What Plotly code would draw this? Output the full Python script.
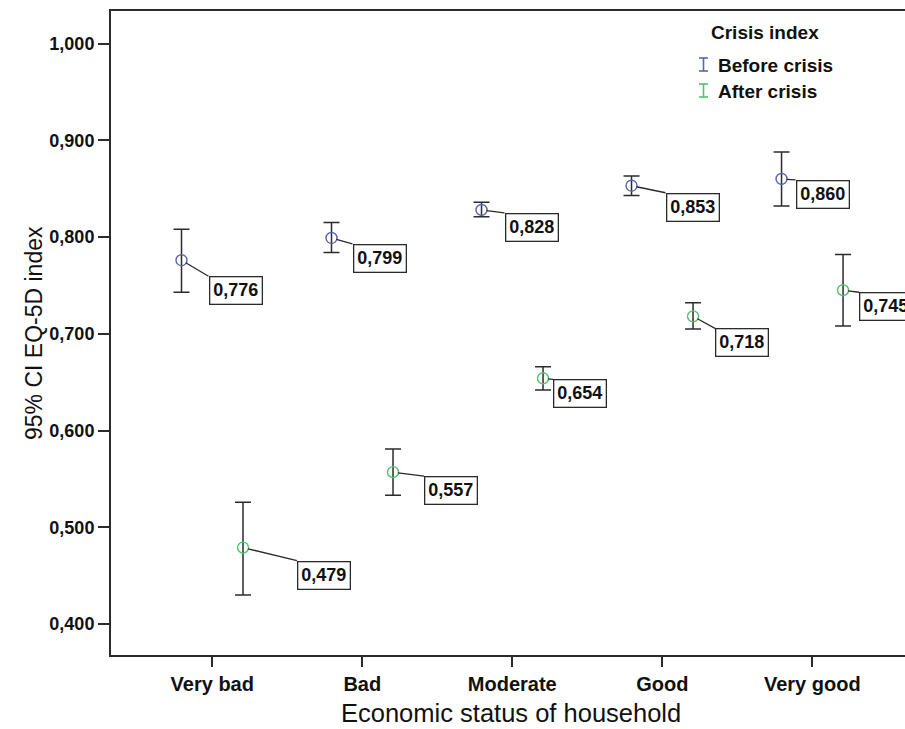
import plotly.graph_objects as go

# ---------------- data ----------------
categories = ["Very bad", "Bad", "Moderate", "Good", "Very good"]
series_names = ["Before crisis", "After crisis"]
legend_title = "Crisis index"

before_mean = [0.776, 0.799, 0.828, 0.853, 0.860]
before_low = [0.743, 0.784, 0.821, 0.843, 0.832]
before_high = [0.808, 0.815, 0.836, 0.863, 0.888]

after_mean = [0.479, 0.557, 0.654, 0.718, 0.745]
after_low = [0.430, 0.533, 0.642, 0.705, 0.708]
after_high = [0.526, 0.581, 0.666, 0.732, 0.782]

y_ticks = [0.4, 0.5, 0.6, 0.7, 0.8, 0.9, 1.0]

x_title = "Economic status of household"
y_title = "95% CI EQ-5D index"

# ---------------- style ----------------
W, H = 905, 729
ML, MR, MT, MB = 111, 0, 11, 729 - 655
FONT = "Liberation Sans, Arial, sans-serif"
DARK = "#2b2b2b"
BLUE = "#5a64b0"
GREEN = "#4fc46a"
group_shift = 0.205
before_label_offsets = [(27, 16), (21, 6), (23, 3), (34, 7), (14, 1)]
after_label_offsets = [(54, 13), (31, 4), (10, 1), (22, 12), (16, 2)]

pw = W - ML - MR
ph = H - MT - MB


def px_to_paper(x, y):
    """figure pixel position -> paper coordinates"""
    return (x - ML) / pw, (H - MB - y) / ph


fig = go.Figure()

series = [
    (series_names[0], before_mean, before_low, before_high, BLUE, -group_shift, before_label_offsets),
    (series_names[1], after_mean, after_low, after_high, GREEN, group_shift, after_label_offsets),
]

annotations = []
for name, mean, low, high, color, shift, offs in series:
    xs = [i + shift for i in range(len(categories))]
    fig.add_trace(go.Scatter(
        x=xs, y=mean, mode="markers", name=name, showlegend=False,
        marker=dict(symbol="circle-open", size=11, color=color, line=dict(width=1.4, color=color)),
        error_y=dict(type="data", symmetric=False,
                     array=[h - m for h, m in zip(high, mean)],
                     arrayminus=[m - l for m, l in zip(mean, low)],
                     color=DARK, thickness=1.5, width=8),
        cliponaxis=False,
    ))
    for x, m, (dx, dy) in zip(xs, mean, offs):
        annotations.append(dict(
            x=x, y=m, xref="x", yref="y",
            text=f"{m:.3f}".replace(".", ","),
            showarrow=True, arrowhead=0, arrowwidth=1.3, arrowcolor=DARK,
            ax=dx, ay=dy, xanchor="left", yanchor="top", standoff=5,
            bgcolor="white", bordercolor=DARK, borderwidth=1.3, borderpad=3,
            font=dict(family=FONT, size=18, color="#111", weight="bold"),
        ))

# axis titles
px, py = px_to_paper(511, 713)
annotations.append(dict(x=px, y=py, xref="paper", yref="paper", text=x_title,
                        showarrow=False, xanchor="center", yanchor="middle",
                        font=dict(family=FONT, size=25.5, color="#111")))
px, py = px_to_paper(34, 333)
annotations.append(dict(x=px, y=py, xref="paper", yref="paper", text=y_title,
                        showarrow=False, xanchor="center", yanchor="middle", textangle=-90,
                        font=dict(family=FONT, size=23, color="#111")))

# legend (drawn manually)
px, py = px_to_paper(709, 32)
annotations.append(dict(x=px, y=py, xref="paper", yref="paper", text=legend_title,
                        showarrow=False, xanchor="left", yanchor="middle",
                        font=dict(family=FONT, size=19, color="#111", weight="bold")))
shapes = []
for k, (name, color) in enumerate([(series_names[0], BLUE), (series_names[1], GREEN)]):
    cy = 65 + 26 * k
    px, py = px_to_paper(716, cy)
    annotations.append(dict(x=px, y=py, xref="paper", yref="paper", text=name,
                            showarrow=False, xanchor="left", yanchor="middle",
                            font=dict(family=FONT, size=19, color="#111", weight="bold")))
    x0, ytop = px_to_paper(699, cy - 7)
    x1, ybot = px_to_paper(708, cy + 6)
    xm = (x0 + x1) / 2
    for (a, b, c, d) in [(xm, ytop, xm, ybot), (x0, ytop, x1, ytop), (x0, ybot, x1, ybot)]:
        shapes.append(dict(type="line", xref="paper", yref="paper", x0=a, y0=b, x1=c, y1=d,
                           line=dict(color=color, width=1.6)))

fig.update_layout(
    width=W, height=H,
    margin=dict(l=ML, r=MR, t=MT, b=MB, pad=0),
    paper_bgcolor="white", plot_bgcolor="white",
    separators=",.",
    showlegend=False,
    hovermode=False,
    annotations=annotations,
    shapes=shapes,
    font=dict(family=FONT, color="#111"),
)
fig.update_xaxes(
    range=[-0.675, 4.618], tickvals=list(range(len(categories))), ticktext=categories,
    showgrid=False, zeroline=False, showline=True, linecolor=DARK, linewidth=2, mirror=True,
    ticks="outside", ticklen=10, tickwidth=1.5, tickcolor=DARK,
    tickfont=dict(family=FONT, size=20, color="#111", weight="bold"),
)
fig.update_yaxes(
    range=[0.368, 1.0336], tickvals=y_ticks, tickformat=".3f",
    showgrid=False, zeroline=False, showline=True, linecolor=DARK, linewidth=2, mirror=False,
    ticks="outside", ticklen=11, tickwidth=1.5, tickcolor=DARK,
    tickfont=dict(family=FONT, size=18, color="#111", weight="bold"),
)

fig.write_html(
    "out.html",
    config={"displayModeBar": False},
    post_script="document.body.style.margin='0';document.body.style.overflow='hidden';",
)
